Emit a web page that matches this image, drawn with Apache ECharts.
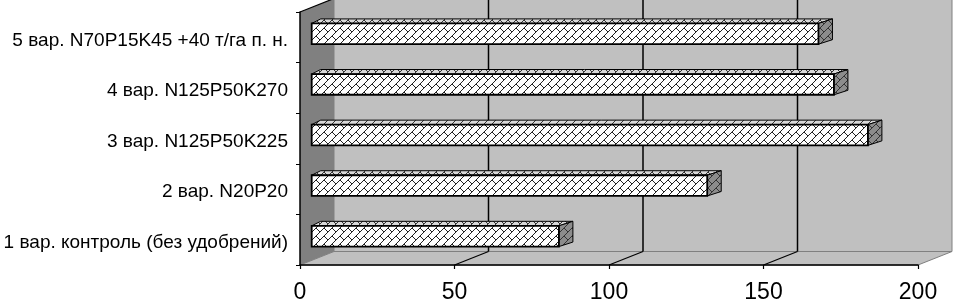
<!DOCTYPE html>
<html><head><meta charset="utf-8">
<script src="https://cdn.jsdelivr.net/npm/echarts@6/dist/echarts.min.js"></script>
<style>html,body{margin:0;padding:0;background:#fff}#c{width:956px;height:304px}</style>
</head><body><div id="c"></div>
<script>
var categories = [
  '1 вар. контроль (без удобрений)',
  '2 вар. N20P20',
  '3 вар. N125P50K225',
  '4 вар. N125P50K270',
  '5 вар. N70P15K45 +40 т/га п. н.'
];
var values = [80, 128, 180, 169, 164];
var xTicks = [0, 50, 100, 150, 200];

var FONT = '"Liberation Sans", Arial, sans-serif';
var DX = 34, DY = -13.5;          // wall depth offset
var BOX = 11.7, BOY = -3.5;       // bar front-face offset
var BDXL = 9, BDXR = 14, BDY = -4.5; // bar depth

function makePattern(bg, fg) {
  var c = document.createElement('canvas'); c.width = 8; c.height = 8;
  var g = c.getContext('2d');
  g.fillStyle = bg; g.fillRect(0, 0, 8, 8);
  g.fillStyle = fg;
  var rows = [0x01, 0x02, 0x04, 0x08, 0x18, 0x24, 0x42, 0x81];
  for (var r = 0; r < 8; r++) for (var col = 0; col < 8; col++)
    if (rows[r] & (0x80 >> col)) g.fillRect(col, r, 1, 1);
  return { image: c, repeat: 'repeat' };
}
var patFront = makePattern('#ffffff', '#222222');
var patTop = makePattern('#d8d8d8', '#333333');
var patSide = makePattern('#8c8c8c', '#333333');

function renderWalls(params, api) {
  var cs = params.coordSys;
  var x0 = cs.x, x1 = cs.x + cs.width, y0 = cs.y, y1 = cs.y + cs.height;
  var ch = [];
  ch.push({ type: 'rect', shape: { x: x0 + DX, y: y0 + DY, width: x1 - x0, height: y1 - y0 },
    style: { fill: '#c0c0c0', stroke: '#808080', lineWidth: 1 } });
  ch.push({ type: 'polygon', shape: { points: [[x0, y1], [x1, y1], [x1 + DX, y1 + DY], [x0 + DX, y1 + DY]] },
    style: { fill: '#c0c0c0', stroke: '#808080', lineWidth: 1 } });
  ch.push({ type: 'polygon', shape: { points: [[x0, y0], [x0 + DX, y0 + DY], [x0 + DX, y1 + DY], [x0, y1]] },
    style: { fill: '#808080' } });
  ch.push({ type: 'line', shape: { x1: x0, y1: y0, x2: x0 + DX, y2: y0 + DY },
    style: { stroke: '#000', lineWidth: 1.2 } });
  for (var i = 1; i < xTicks.length - 1; i++) {
    var px = api.coord([xTicks[i], 0])[0];
    ch.push({ type: 'line', shape: { x1: px + DX, y1: y0 + DY, x2: px + DX, y2: y1 + DY },
      style: { stroke: '#000', lineWidth: 1.5 } });
    ch.push({ type: 'line', shape: { x1: px, y1: y1, x2: px + DX, y2: y1 + DY },
      style: { stroke: '#000', lineWidth: 1.2 } });
  }
  return { type: 'group', children: ch };
}

function renderBar(params, api) {
  var idx = api.value(0), v = api.value(1);
  var p0 = api.coord([0, idx]), p1 = api.coord([v, idx]);
  var band = api.size([0, 1])[1];
  var h = band * 0.41;
  var xa = p0[0] + BOX, xb = p1[0] + BOX;
  var yc = p0[1] + BOY, top = yc - h / 2, bot = yc + h / 2;
  var sk = '#000';
  return { type: 'group', children: [
    { type: 'polygon', shape: { points: [[xa, top], [xa + BDXL, top + BDY], [xb + BDXR, top + BDY], [xb, top]] },
      style: { fill: patTop, stroke: sk, lineWidth: 1 } },
    { type: 'polygon', shape: { points: [[xb, top], [xb + BDXR, top + BDY], [xb + BDXR, bot + BDY], [xb, bot]] },
      style: { fill: patSide, stroke: sk, lineWidth: 1 } },
    { type: 'rect', shape: { x: xa, y: top, width: xb - xa, height: bot - top },
      style: { fill: patFront, stroke: sk, lineWidth: 1.8 } }
  ] };
}

var chart = echarts.init(document.getElementById('c'), null, { renderer: 'canvas' });
chart.setOption({
  animation: false,
  backgroundColor: '#ffffff',
  grid: { left: 300, right: 38, top: 12, bottom: 37, containLabel: false },
  xAxis: {
    type: 'value', min: 0, max: 200, interval: 50, z: 10,
    axisLine: { show: true, lineStyle: { color: '#000', width: 1.5 } },
    axisTick: { show: true, length: 4, lineStyle: { color: '#000', width: 1.2 } },
    splitLine: { show: false },
    axisLabel: { color: '#000', fontSize: 23, fontFamily: FONT, margin: 16,
      formatter: function (v) { return xTicks.indexOf(v) >= 0 ? String(v) : ''; } }
  },
  yAxis: {
    type: 'category', data: categories, z: 10,
    axisLine: { show: true, lineStyle: { color: '#000', width: 1.5 } },
    axisTick: { show: true, length: 4, lineStyle: { color: '#000', width: 1 } },
    splitLine: { show: false },
    axisLabel: { margin: 12,
      formatter: function (v) { return '{a|' + v + '}'; },
      rich: { a: { color: '#000', fontSize: 19, fontFamily: FONT, padding: [6, 0, 0, 0] } } }
  },
  series: [
    { type: 'custom', z: 1, silent: true, renderItem: renderWalls, data: [[0, 0]], clip: false },
    { type: 'custom', z: 3, renderItem: renderBar, clip: false,
      data: values.map(function (v, i) { return [i, v]; }),
      encode: { x: 1, y: 0 } }
  ]
});
</script>
</body></html>
